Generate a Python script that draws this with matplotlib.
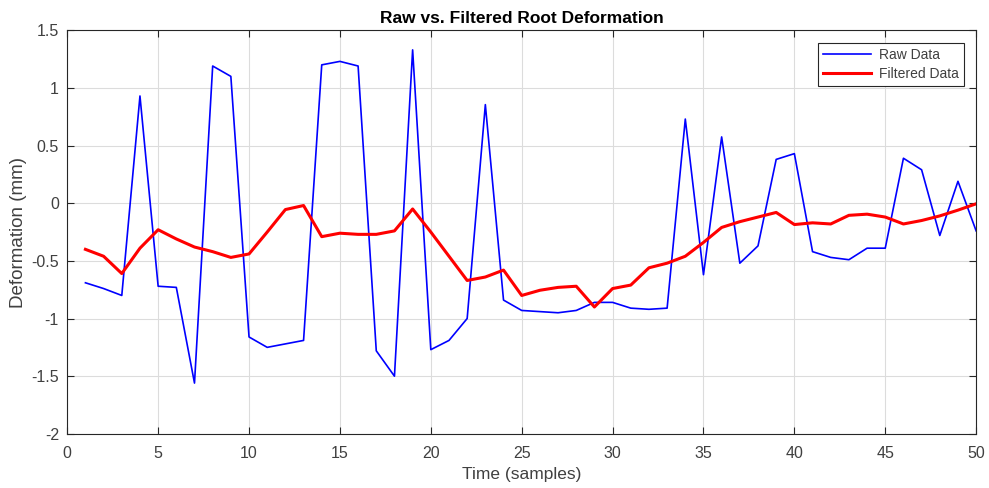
import matplotlib
matplotlib.use("Agg")
import matplotlib.pyplot as plt
import numpy as np

plt.rcParams['font.family'] = ['Liberation Sans', 'DejaVu Sans']

samples = np.arange(1, 51)

raw_data = [-0.69, -0.74, -0.80, 0.93, -0.72, -0.73, -1.56, 1.19, 1.10, -1.16,
            -1.25, -1.22, -1.19, 1.20, 1.23, 1.19, -1.28, -1.50, 1.33, -1.27,
            -1.19, -1.00, 0.855, -0.84, -0.93, -0.94, -0.95, -0.93, -0.86, -0.86,
            -0.91, -0.92, -0.91, 0.73, -0.62, 0.575, -0.52, -0.37, 0.38, 0.43,
            -0.42, -0.47, -0.49, -0.39, -0.39, 0.39, 0.29, -0.28, 0.19, -0.24]

filtered_data = [-0.40, -0.46, -0.61, -0.39, -0.23, -0.31, -0.38, -0.42, -0.47, -0.44,
                 -0.25, -0.055, -0.02, -0.29, -0.26, -0.27, -0.27, -0.24, -0.05, -0.25,
                 -0.46, -0.67, -0.64, -0.58, -0.80, -0.755, -0.73, -0.72, -0.90, -0.74,
                 -0.71, -0.56, -0.52, -0.46, -0.34, -0.21, -0.16, -0.12, -0.08, -0.185,
                 -0.17, -0.18, -0.105, -0.095, -0.12, -0.18, -0.15, -0.11, -0.06, -0.005]

x_ticks = [0, 5, 10, 15, 20, 25, 30, 35, 40, 45, 50]
y_ticks = [-2, -1.5, -1, -0.5, 0, 0.5, 1, 1.5]
y_tick_labels = ['-2', '-1.5', '-1', '-0.5', '0', '0.5', '1', '1.5']

axis_col = '#262626'
label_col = '#404040'

fig = plt.figure(figsize=(9.89, 4.88), dpi=100)
ax = fig.add_axes([0.068, 0.111, 0.919, 0.827])

ax.plot(samples, raw_data, color='#0000ff', linewidth=1.2, label='Raw Data')
ax.plot(samples, filtered_data, color='#ff0000', linewidth=2.2, label='Filtered Data')

ax.set_xlim(0, 50)
ax.set_ylim(-2, 1.5)
ax.set_xticks(x_ticks)
ax.set_yticks(y_ticks)
ax.set_yticklabels(y_tick_labels)
ax.grid(True, color='#dcdcdc', linewidth=0.8)
ax.set_axisbelow(True)

ax.tick_params(direction='in', top=True, right=True, length=5, width=0.8,
               colors=axis_col, labelcolor=label_col, labelsize=11.5, pad=6)
ax.tick_params(axis='x', pad=9)
for s in ax.spines.values():
    s.set_color(axis_col)
    s.set_linewidth(0.8)

ax.set_xlabel('Time (samples)', fontsize=12.5, color=label_col, labelpad=4)
ax.set_ylabel('Deformation (mm)', fontsize=13.5, color=label_col, labelpad=3)
ax.set_title('Raw vs. Filtered Root Deformation', fontsize=12.5, fontweight='bold', pad=5)

leg = ax.legend(loc='upper right', fontsize=10, fancybox=False, framealpha=1,
                edgecolor=axis_col, borderaxespad=0.9, handlelength=3.4,
                borderpad=0.35, labelspacing=0.4, handletextpad=0.6)
leg.get_frame().set_linewidth(0.8)
for t in leg.get_texts():
    t.set_color(label_col)

fig.savefig('out.png', dpi=100)
